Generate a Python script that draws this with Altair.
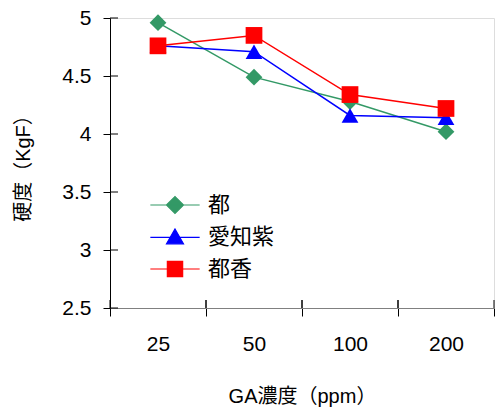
import altair as alt
import pandas as pd

conc = ["25", "50", "100", "200"]
series = ["都", "愛知紫", "都香"]
miyako = [4.96, 4.49, 4.28, 4.02]
aichi = [4.76, 4.71, 4.16, 4.14]
miyakoka = [4.76, 4.85, 4.34, 4.22]
colors = ["#339966", "#0000ff", "#ff0000"]
marker_shapes = ["diamond", "triangle-up", "square"]
yticks = [2.5, 3, 3.5, 4, 4.5, 5]

rows = []
for name, vals in zip(series, [miyako, aichi, miyakoka]):
    for c, v in zip(conc, vals):
        rows.append({"conc": c, "series": name, "hard": v})
df = pd.DataFrame(rows)

FONT = "Liberation Sans, Noto Sans CJK JP"
W, H = 384, 290

legend_paths = [
    "M-2.9,0H2.9M-1,0L0,-1L1,0L0,1Z",
    "M-2.9,0.05H2.9M0,-0.95L1,0.8L-1,0.8Z",
    "M-2.9,0H2.9M-0.9,-0.9H0.9V0.9H-0.9Z",
]

xscale = alt.Scale(domain=conc, paddingInner=0, paddingOuter=0)
yscale = alt.Scale(domain=[2.5, 5], nice=False, zero=False)
# marks' colour scale (domain listed in reverse so it stays apart from the legend's scales)
cscale = alt.Scale(domain=series[::-1], range=colors[::-1])

base = alt.Chart(df)

lines = base.mark_line(strokeWidth=1.5).encode(
    x=alt.X("conc:N", sort=conc, scale=xscale,
            axis=alt.Axis(title="GA濃度（ppm）", labelAngle=0, tickBand="extent",
                          tickSize=8, tickColor="black", domainColor="#808080",
                          labelFontSize=21, labelPadding=17, labelFont=FONT,
                          titleFont=FONT, titleFontSize=20, titleFontWeight="normal",
                          titlePadding=32, titleColor="black", labelColor="black")),
    y=alt.Y("hard:Q", scale=yscale,
            axis=alt.Axis(title="硬度（KgF）", values=yticks, format="~g",
                          tickSize=7, tickColor="black", domainColor="black",
                          labelFontSize=21, labelPadding=12, labelFont=FONT,
                          titleFont=FONT, titleFontSize=20, titleFontWeight="normal",
                          titlePadding=28, titleColor="black", labelColor="black",
                          grid=False)),
    color=alt.Color("series:N", scale=cscale, legend=None),
    order=alt.Order("series:N"),
)

point_layers = []
for name, shp in zip(series, marker_shapes):
    point_layers.append(
        base.transform_filter(alt.datum.series == name).mark_point(
            filled=True, size=280, opacity=1, shape=shp
        ).encode(
            x=alt.X("conc:N", sort=conc, scale=xscale),
            y=alt.Y("hard:Q", scale=yscale),
            color=alt.Color("series:N", scale=cscale, legend=None),
        )
    )

leg = alt.Legend(
    title=None, orient="none", legendX=54, legendY=176,
    symbolSize=289, labelFontSize=22, labelFont=FONT,
    labelColor="black", labelOffset=22, rowPadding=10,
    padding=0, symbolOpacity=1, symbolStrokeWidth=1.2,
)

legend_layer = base.mark_point(opacity=0, filled=True).encode(
    x=alt.X("conc:N", sort=conc, scale=xscale),
    y=alt.Y("hard:Q", scale=yscale),
    fill=alt.Fill("series:N", scale=alt.Scale(domain=series, range=colors), legend=leg),
    stroke=alt.Stroke("series:N", scale=alt.Scale(domain=series, range=colors), legend=leg),
    shape=alt.Shape("series:N", scale=alt.Scale(domain=series, range=legend_paths), legend=leg),
)

# inner halves of the crossing tick marks
xt_df = pd.DataFrame({"conc": conc})
yt_df = pd.DataFrame({"v": yticks})
xin0 = alt.Chart(xt_df).mark_rule(color="black", strokeWidth=1).encode(
    x=alt.X("conc:N", sort=conc, scale=xscale, bandPosition=0),
    y=alt.value(H - 8), y2=alt.value(H),
)
xin1 = alt.Chart(xt_df).mark_rule(color="black", strokeWidth=1).encode(
    x=alt.X("conc:N", sort=conc, scale=xscale, bandPosition=1),
    y=alt.value(H - 8), y2=alt.value(H),
)
yin = alt.Chart(yt_df).mark_rule(color="black", strokeWidth=1).encode(
    y=alt.Y("v:Q", scale=yscale),
    x=alt.value(0), x2=alt.value(8),
)

chart = alt.layer(lines, *point_layers, legend_layer, xin0, xin1, yin).properties(
    width=W, height=H,
    autosize=alt.AutoSizeParams(type="none"),
    padding={"left": 110, "top": 18, "right": 1, "bottom": 106},
).configure_view(stroke=None).configure(background="white")

chart.save("out.html", embed_options={"renderer": "svg", "actions": False})
